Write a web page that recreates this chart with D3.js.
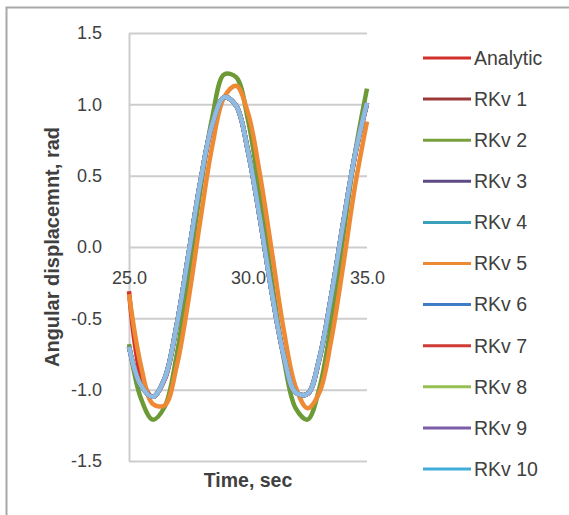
<!DOCTYPE html>
<html>
<head>
<meta charset="utf-8">
<script src="https://cdn.jsdelivr.net/npm/d3@7"></script>
<style>
  body { margin: 0; background: #fff; }
  text { font-family: "Liberation Sans", Arial, sans-serif; fill: #404040; }
</style>
</head>
<body>
<div id="chart"></div>
<script>
// time samples, sec
var times = [25, 25.5, 26, 26.5, 27, 27.5, 28, 28.5, 29, 29.5, 30,
             30.5, 31, 31.5, 32, 32.5, 33, 33.5, 34, 34.5, 35];

// angular displacement, rad
var analytic  = [-0.31, -0.90, -1.05, -0.93, -0.56, -0.06, 0.45, 0.85, 1.05, 0.99, 0.68,
                 0.21, -0.31, -0.75, -1.02, -1.03, -0.79, -0.35, 0.16, 0.64, 1.00];
var rkv2      = [-0.68, -1.06, -1.21, -1.12, -0.76, -0.20, 0.40, 0.91, 1.21, 1.19, 0.89,
                 0.37, -0.23, -0.78, -1.13, -1.21, -0.99, -0.53, 0.07, 0.66, 1.11];
var rkv5      = [-0.33, -0.83, -1.10, -1.11, -0.84, -0.37, 0.19, 0.71, 1.05, 1.13, 0.94,
                 0.51, -0.03, -0.58, -0.98, -1.13, -1.02, -0.65, -0.13, 0.43, 0.88];
// the remaining variants overlap one another on the chart
var rkvClose  = [-0.70, -0.97, -1.05, -0.92, -0.55, -0.05, 0.46, 0.86, 1.05, 0.99, 0.67,
                 0.20, -0.32, -0.76, -1.02, -1.03, -0.78, -0.34, 0.17, 0.65, 1.01];

var seriesNames = ["Analytic", "RKv 1", "RKv 2", "RKv 3", "RKv 4", "RKv 5",
                   "RKv 6", "RKv 7", "RKv 8", "RKv 9", "RKv 10"];
var seriesValues = [analytic, rkvClose, rkv2, rkvClose, rkvClose, rkv5,
                    rkvClose, rkvClose, rkvClose, rkvClose, rkvClose];

var yTicks = [-1.5, -1.0, -0.5, 0.0, 0.5, 1.0, 1.5];
var xTicks = [25, 30, 35];

var legendColors = ["#d2302c", "#9a3a38", "#78a03c", "#5e4b86", "#3aa0bc", "#ee8a34",
                    "#3e7cc6", "#d03a36", "#94c052", "#7d5ca8", "#40aed8"];
var lineColors = legendColors.slice();
lineColors[2] = "#6c9a36";
lineColors[10] = "#8dbbe2";

var W = 569, H = 515;
var plot = { left: 129, right: 367, top: 33, bottom: 461 };

var svg = d3.select("#chart").append("svg")
  .attr("width", W)
  .attr("height", H);

// outer chart border (only left and top visible)
svg.append("path")
  .attr("d", "M6.5," + H + "V7.5H" + W)
  .attr("fill", "none")
  .attr("stroke", "#a8a8a8")
  .attr("stroke-width", 2);

var x = d3.scaleLinear().domain([25, 35]).range([plot.left, plot.right]);
var y = d3.scaleLinear().domain([-1.5, 1.5]).range([plot.bottom, plot.top]);

// y axis + gridlines
var yAxis = svg.append("g")
  .attr("transform", "translate(" + plot.left + ",0)")
  .call(d3.axisLeft(y)
    .tickValues(yTicks)
    .tickSize(-(plot.right - plot.left))
    .tickSizeOuter(0)
    .tickPadding(27)
    .tickFormat(function(d) { return d.toFixed(1); }));
yAxis.selectAll(".tick line").attr("stroke", "#cdcdcd").attr("stroke-width", 2);
yAxis.select(".domain").attr("stroke", "#cdcdcd").attr("stroke-width", 2);
yAxis.selectAll("text")
  .attr("font-size", 18)
  .attr("font-family", null)
  .attr("fill", "#4a4a4a");

// x axis crossing at zero
var xAxis = svg.append("g")
  .attr("transform", "translate(0," + y(0) + ")")
  .call(d3.axisBottom(x)
    .tickValues(xTicks)
    .tickSize(0)
    .tickPadding(24)
    .tickFormat(function(d) { return d.toFixed(1); }));
xAxis.select(".domain").remove();
xAxis.selectAll("text")
  .attr("font-size", 18)
  .attr("font-family", null)
  .attr("fill", "#4a4a4a");

// series lines
var line = d3.line()
  .x(function(d, i) { return x(times[i]); })
  .y(function(d) { return y(d); })
  .curve(d3.curveCatmullRom.alpha(0.5));

svg.append("g")
  .selectAll("path")
  .data(seriesValues)
  .enter().append("path")
  .attr("d", line)
  .attr("fill", "none")
  .attr("stroke", function(d, i) { return lineColors[i]; })
  .attr("stroke-width", 4.5)
  .attr("stroke-linejoin", "round");

// axis titles
svg.append("text")
  .attr("transform", "translate(59," + y(0) + ") rotate(-90)")
  .attr("text-anchor", "middle")
  .attr("font-size", 20)
  .attr("font-weight", "bold")
  .attr("fill", "#262626")
  .text("Angular displacemnt, rad");

svg.append("text")
  .attr("x", (plot.left + plot.right) / 2)
  .attr("y", 487)
  .attr("text-anchor", "middle")
  .attr("font-size", 19.5)
  .attr("font-weight", "bold")
  .attr("fill", "#262626")
  .text("Time, sec");

// legend
var ly = d3.scalePoint().domain(seriesNames).range([58, 469]);
var legend = svg.append("g")
  .selectAll("g")
  .data(seriesNames)
  .enter().append("g")
  .attr("transform", function(d) { return "translate(0," + ly(d) + ")"; });

legend.append("line")
  .attr("x1", 423).attr("x2", 471)
  .attr("stroke", function(d, i) { return legendColors[i]; })
  .attr("stroke-width", 3);

legend.append("text")
  .attr("x", 474)
  .attr("dy", "0.35em")
  .attr("font-size", 19.5)
  .attr("fill", "#4a4a4a")
  .text(function(d) { return d; });
</script>
</body>
</html>
